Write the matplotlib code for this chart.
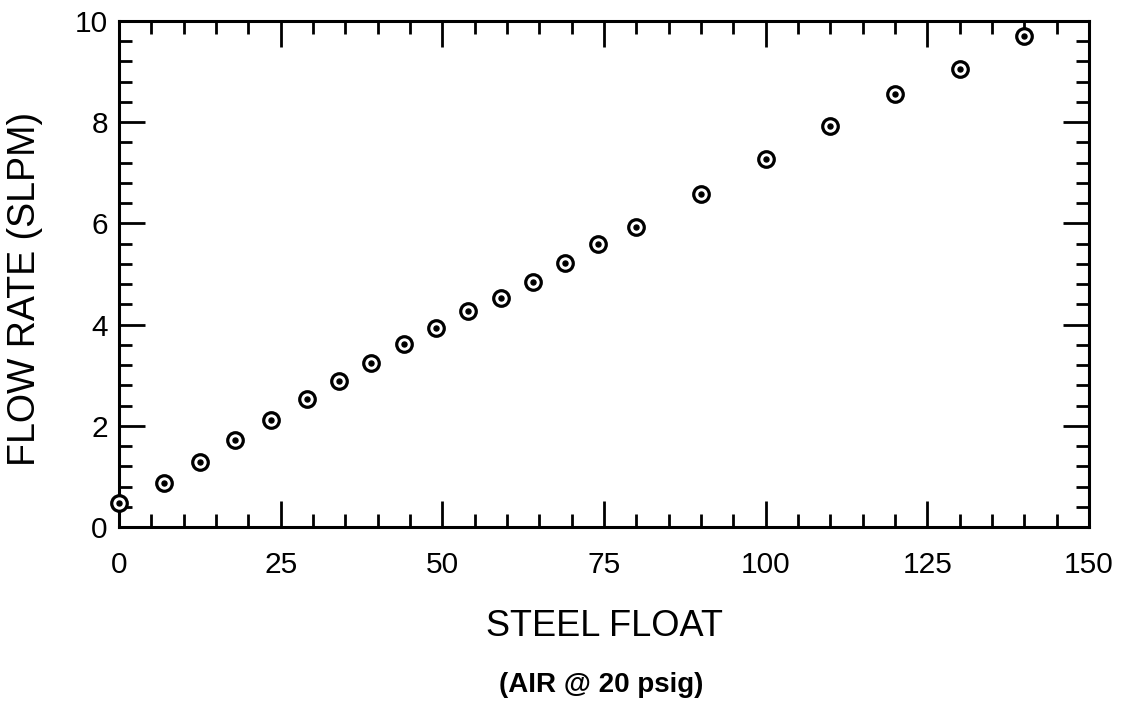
import matplotlib
matplotlib.use("Agg")
import matplotlib.pyplot as plt
from matplotlib.ticker import MultipleLocator

# steel float reading vs. flow rate, air at 20 psig
float_reading = [0, 7, 12.5, 18, 23.5, 29, 34, 39, 44, 49, 54, 59, 64, 69, 74, 80,
                 90, 100, 110, 120, 130, 140]
flow_slpm = [0.47, 0.86, 1.28, 1.72, 2.11, 2.52, 2.89, 3.25, 3.62, 3.94, 4.26, 4.53,
             4.85, 5.21, 5.60, 5.92, 6.59, 7.27, 7.93, 8.55, 9.06, 9.71]

plt.rcParams['font.family'] = ['Liberation Sans', 'DejaVu Sans']

fig = plt.figure(figsize=(11.31, 7.09), dpi=100)
ax = fig.add_axes([0.1052, 0.2567, 0.8577, 0.7137])

# ringed dot markers: open circle plus a small centre dot
ax.plot(float_reading, flow_slpm, linestyle='none', marker='o', markersize=11.2,
        markerfacecolor='white', markeredgecolor='black', markeredgewidth=2.3,
        clip_on=False, zorder=3)
ax.plot(float_reading, flow_slpm, linestyle='none', marker='o', markersize=3.6,
        color='black', clip_on=False, zorder=4)

ax.set_xlim(0, 150)
ax.set_ylim(0, 10)
ax.xaxis.set_major_locator(MultipleLocator(25))
ax.xaxis.set_minor_locator(MultipleLocator(5))
ax.yaxis.set_major_locator(MultipleLocator(2))
ax.yaxis.set_minor_locator(MultipleLocator(0.4))

for s in ax.spines.values():
    s.set_linewidth(2.2)

ax.tick_params(which='both', direction='in', top=True, right=True, width=2.0,
               labelsize=21.5)
ax.tick_params(which='major', length=19)
ax.tick_params(which='minor', length=9.5)
ax.tick_params(axis='x', which='major', pad=17)
ax.tick_params(axis='y', which='major', pad=8)

fig.text(0.0221, 1 - 289 / 709, 'FLOW RATE (SLPM)', rotation=90, ha='center',
         va='center', fontsize=27)
fig.text(604 / 1131, 1 - 627 / 709, 'STEEL FLOAT', ha='center', va='center',
         fontsize=26)
fig.text(601 / 1131, 1 - 685 / 709, '(AIR @ 20 psig)', ha='center', va='center',
         fontsize=20, fontweight='bold')

fig.savefig('out.png', dpi=100)
